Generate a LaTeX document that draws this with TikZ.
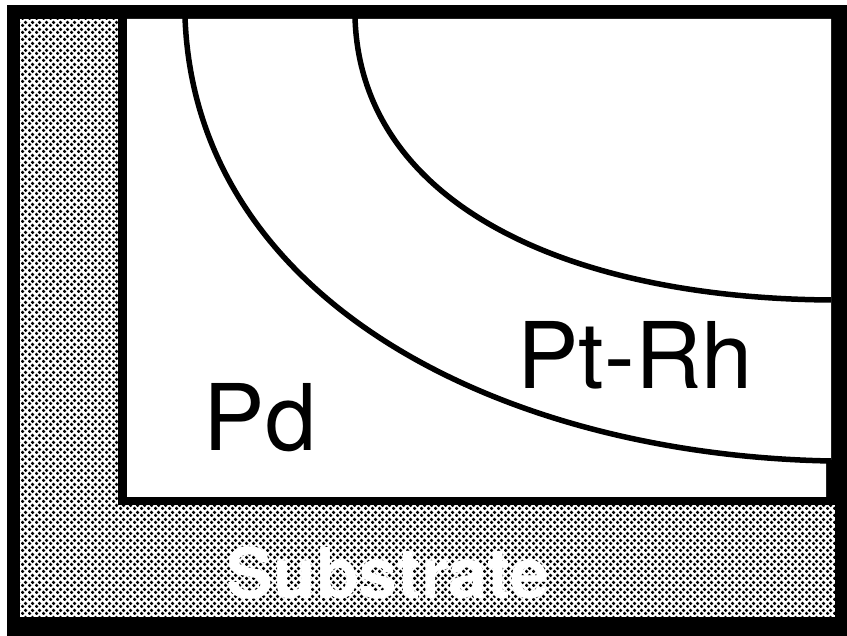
\documentclass[tikz,border=0pt]{standalone}
\usepackage{fontspec}
\setmainfont{TeX Gyre Heros}
\usetikzlibrary{patterns}
\pgfdeclarepatternformonly{halftone}{\pgfpointorigin}{\pgfpoint{7pt}{7pt}}{\pgfpoint{7pt}{7pt}}{%
  \pgfpathcircle{\pgfpoint{1.75pt}{1.75pt}}{2.0pt}%
  \pgfpathcircle{\pgfpoint{5.25pt}{5.25pt}}{2.0pt}%
  \pgfusepath{fill}}
\begin{document}
\begin{tikzpicture}[x=1pt,y=-1pt,
  boundary/.style={line width=5.5pt,line cap=butt},
  label/.style={font=\fontsize{92}{92}\selectfont,inner sep=0pt},
  sublabel/.style={font=\fontsize{70}{70}\selectfont\bfseries,text=white,inner sep=0pt}]
\useasboundingbox (0,0) rectangle (847,636);
% outer black frame
\fill[black] (7,5) rectangle (847,636);
% substrate halftone
\fill[white] (20,19) rectangle (835,617);
\fill[pattern=halftone,pattern color=black] (20,19) rectangle (835,617);
% inner black border
\fill[black] (118,19) rectangle (835,505);
% inner white region (notch at lower right)
\fill[white] (127,19) -- (831,19) -- (831,460) -- (826,460) -- (826,497) -- (127,497) -- cycle;
% boundaries
\coordinate (c1s) at (185,17);
\coordinate (c1e) at (831,461);
\coordinate (c2s) at (355,17);
\coordinate (c2e) at (831,300);
\draw[boundary] (c1s) .. controls (195,300) and (500,455) .. (c1e);
\draw[boundary] (c2s) .. controls (360,200) and (560,298) .. (c2e);
% labels
\node[label] (ptrh) at (635,355) {Pt-Rh};
\node[label] (pd) at (260,418) {Pd};
\node[sublabel] (sub) at (388,573) {Substrate};
\end{tikzpicture}
\end{document}
